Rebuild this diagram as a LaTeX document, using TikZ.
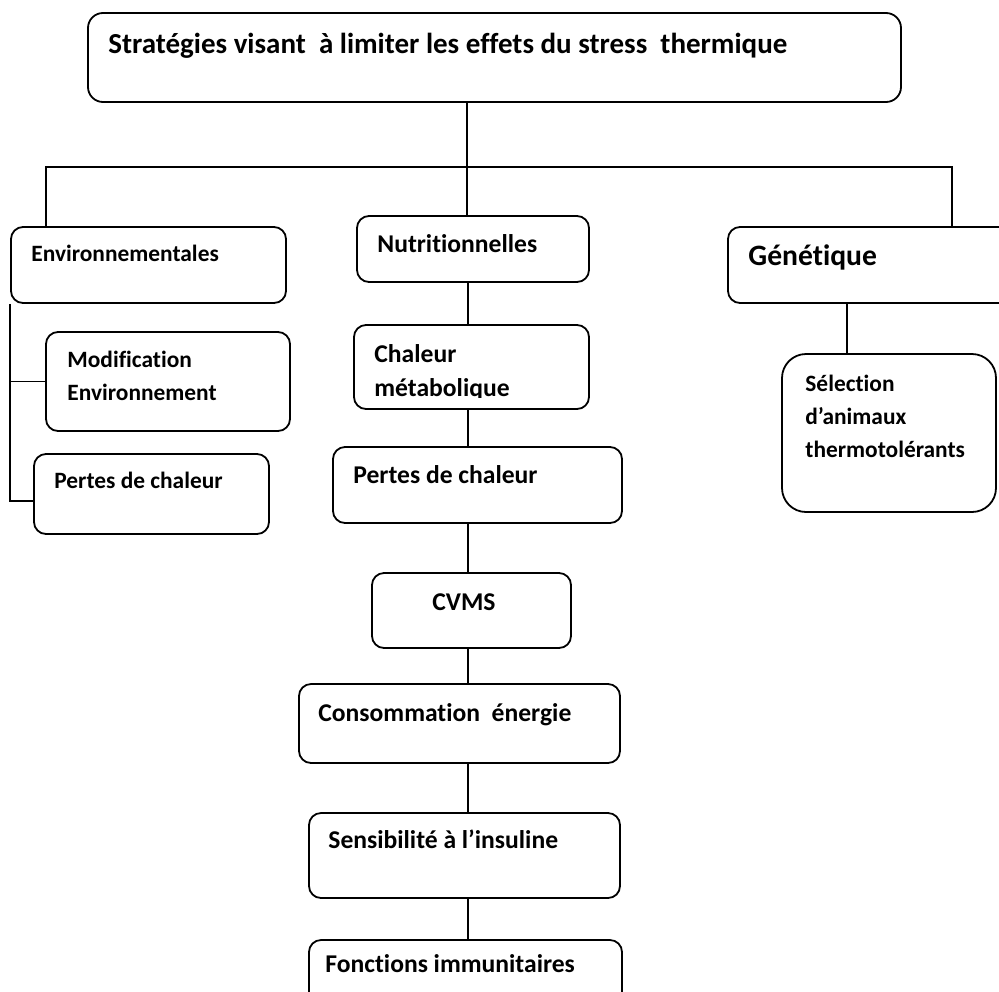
\documentclass[tikz,border=0pt]{standalone}
\usepackage{fontspec}
\setmainfont{Carlito}[Ligatures=NoCommon]
\usetikzlibrary{fit}

\tikzset{
	boite/.style={draw, rounded corners=6pt, line width=0.9pt, inner sep=0pt},
	lien/.style={line width=0.7pt},
	petit/.style={anchor=base west, inner sep=0pt, align=left, font=\bfseries\fontsize{11.7}{16.5}\selectfont},
	moyen/.style={anchor=base west, inner sep=0pt, align=left, font=\bfseries\fontsize{12.8}{17}\selectfont},
	grand/.style={anchor=base west, inner sep=0pt, font=\bfseries\fontsize{14.8}{17}\selectfont},
}

\begin{document}
\begin{tikzpicture}[x=0.5pt,y=-0.5pt]
	\path[use as bounding box, fill=white] (0,0) rectangle (999,991);

	\node[boite, rounded corners=7.5pt, fit={(88,13) (901,102)}] (titre) {};
	\node[grand, font=\bfseries\fontsize{14.5}{17}\selectfont] (titre-t) at (108,53) {Stratégies visant~ à limiter les effets du stress~ thermique};

	\node[boite, fit={(11,227) (286,303)}] (envir) {};
	\node[petit] (envir-t) at (31,261) {Environnementales};
	\node[boite, fit={(357,216) (589,282)}] (nutri) {};
	\node[moyen] (nutri-t) at (377,252) {Nutritionnelles};
	\node[boite, fit={(728,227) (1020,303)}] (genet) {};
	\node[grand] (genet-t) at (748,265) {Génétique};

	\node[boite, fit={(46,332) (290,431)}] (modif) {};
	\node[petit] (modif-t) at (67,400) {Modification\\Environnement};
	\node[boite, fit={(34,454) (269,534)}] (pertesg) {};
	\node[petit] (pertesg-t) at (54,488) {Pertes de chaleur};

	\node[boite, fit={(354,325) (589,409)}] (chaleur) {};
	\begin{scope}
		\clip (354,325) rectangle (589,397);
		\node[moyen] (chaleur-t) at (374,396) {Chaleur\\métabolique};
	\end{scope}
	\node[boite, fit={(333,447) (622,523)}] (pertesc) {};
	\node[moyen] (pertesc-t) at (353,483) {Pertes de chaleur};
	\node[boite, fit={(372,573) (571,648)}] (cvms) {};
	\node[moyen, anchor=base] (cvms-t) at (464,610) {CVMS};
	\node[boite, fit={(299,684) (620,763)}] (conso) {};
	\node[moyen] (conso-t) at (318,721) {Consommation~ énergie};
	\node[boite, fit={(309,813) (620,898)}] (sensi) {};
	\node[moyen] (sensi-t) at (328,848) {Sensibilité à l’insuline};
	\node[boite, fit={(309,940) (622,1010)}] (fonct) {};
	\node[moyen] (fonct-t) at (325,972) {Fonctions immunitaires};

	\node[boite, rounded corners=12pt, fit={(782,354) (996,512)}] (select) {};
	\node[petit] (select-t) at (805,457) {Sélection\\d’animaux\\thermotolérants};

	\coordinate (g) at (46,167);
	\coordinate (m) at (467,167);
	\coordinate (d) at (952,167);
	\coordinate (c) at (468,0);
	\coordinate (s) at (847,0);

	\draw[lien] (m |- titre.south) -- (m |- nutri.north);
	\draw[lien] (g |- envir.north) -- (g) -- (d) -- (d |- genet.north);
	\draw[lien] (s |- genet.south) -- (s |- select.north);
	\draw[lien] (envir.south west) |- ([yshift=-3.5pt]pertesg.west);
	\draw[lien] (envir.south west |- modif.west) -- (modif.west);
	\foreach \a/\b in {nutri/chaleur, chaleur/pertesc, pertesc/cvms, cvms/conso, conso/sensi, sensi/fonct}
		\draw[lien] (c |- \a.south) -- (c |- \b.north);
\end{tikzpicture}
\end{document}
